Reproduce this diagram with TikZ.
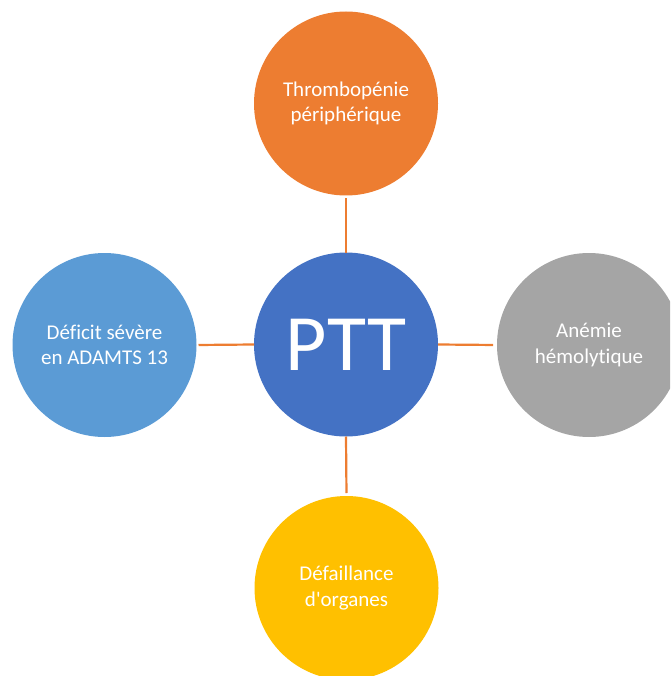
\documentclass[tikz,border=0pt]{standalone}
\usepackage{fontspec}
\setmainfont{Carlito}[Ligatures={NoCommon}]
\definecolor{cOrange}{HTML}{ED7D31}
\definecolor{cBlue}{HTML}{4472C4}
\definecolor{cLightBlue}{HTML}{5B9BD5}
\definecolor{cGray}{HTML}{A5A5A5}
\definecolor{cYellow}{HTML}{FFC000}
\begin{document}
\begin{tikzpicture}[x=1pt,y=-1pt,
  bubble/.style={circle, minimum size=184pt, inner sep=0pt, outer sep=0pt, text=white,
    align=center, font=\fontsize{21}{25.5}\selectfont},
  link/.style={draw=cOrange, line width=2.2pt}]
\useasboundingbox (0,0) rectangle (670,676);
\clip (0,0) rectangle (670,676);
\node[bubble, fill=cOrange] (top) at (346,103.5) {Thrombopénie\\périphérique};
\node[bubble, fill=cBlue, font=\fontsize{80}{80}\selectfont] (ptt) at (346,344.5) {PTT};
\node[bubble, fill=cLightBlue] (left) at (104.5,345) {Déficit sévère\\en ADAMTS 13};
\node[bubble, fill=cGray] (right) at (589,345) {Anémie\\hémolytique};
\node[bubble, fill=cYellow] (bottom) at (346.5,588) {Défaillance\\d\textquotesingle organes};
\draw[link, shorten >=3pt] (ptt.north) -- (top.south);
\draw[link, shorten >=2pt] (ptt.west) -- (left.east);
\draw[link, shorten >=4pt] (ptt.east) -- (right.west);
\draw[link, shorten >=3pt] (ptt.south) -- (bottom.north);
\end{tikzpicture}
\end{document}
